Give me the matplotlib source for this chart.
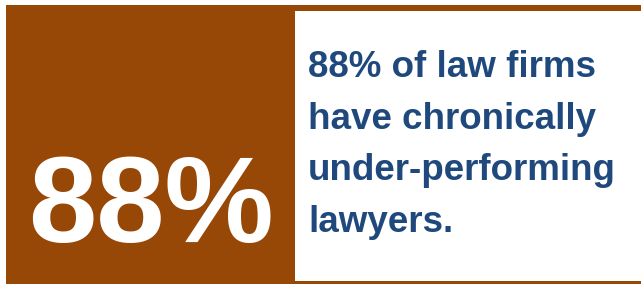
import matplotlib
matplotlib.use("Agg")
import matplotlib.pyplot as plt
from matplotlib.patches import Rectangle

# Data
stat_values = [88]
stat_labels = ["88% of law firms", "have chronically", "under-performing", "lawyers."]

BROWN = "#974706"
BLUE = "#1F497D"

W, H = 641, 284
fig = plt.figure(figsize=(W / 100, H / 100), dpi=100)
ax = fig.add_axes([0, 0, 1, 1])
ax.set_xlim(0, W)
ax.set_ylim(H, 0)
ax.axis("off")

# top strip
ax.add_patch(Rectangle((6, 5), W - 6, 6, color=BROWN, lw=0))
# bottom strip
ax.add_patch(Rectangle((6, 281), W - 6, 3, color=BROWN, lw=0))
# big box
ax.add_patch(Rectangle((6, 5), 289, 276, color=BROWN, lw=0))

ax.text(28, 242, f"{stat_values[0]}%", color="white", fontsize=88.5,
        fontweight="bold", family="Liberation Sans", ha="left", va="baseline")

baselines = [77, 129, 180, 232]
for lab, yb in zip(stat_labels, baselines):
    ax.text(308, yb, lab, color=BLUE, fontsize=26.5, fontweight="bold",
            family="Liberation Sans", ha="left", va="baseline")

fig.savefig("out.png", dpi=100)
